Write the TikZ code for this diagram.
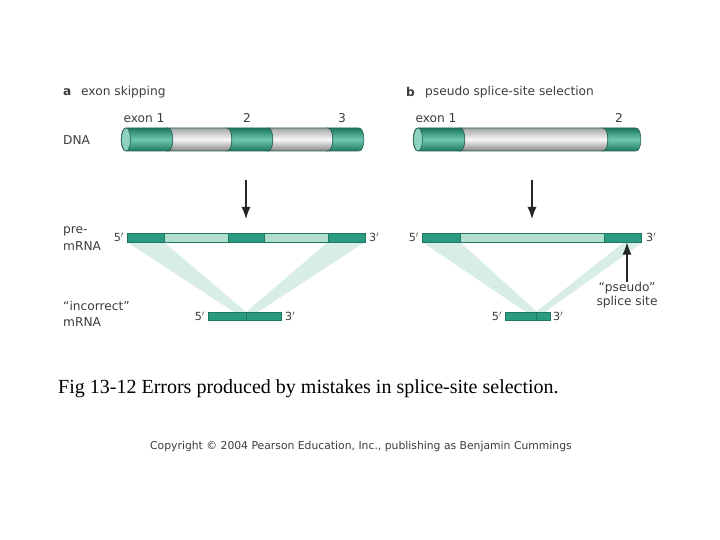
\documentclass[tikz,border=0pt]{standalone}
\usepackage{fontspec}
\setmainfont{Liberation Serif}
\newfontfamily\labfont{DejaVu Sans}
\usetikzlibrary{arrows.meta}
\definecolor{exdark}{RGB}{28,120,96}
\definecolor{exlight}{RGB}{110,200,175}
\definecolor{exface}{RGB}{140,210,190}
\definecolor{grdark}{RGB}{165,165,165}
\definecolor{grlight}{RGB}{248,248,248}
\definecolor{barc}{RGB}{42,155,128}
\definecolor{barline}{RGB}{30,120,98}
\definecolor{barlight}{RGB}{178,222,208}
\definecolor{bandc}{RGB}{216,237,230}
\definecolor{txt}{RGB}{60,60,60}
\definecolor{outl}{RGB}{40,95,80}
\newcommand{\cylpart}[3]{%
  \path[#1] (#2,128) -- (#3,128) .. controls (#3+6.5,128) and (#3+6.5,151) .. (#3,151)
    -- (#2,151) .. controls (#2+6.5,151) and (#2+6.5,128) .. (#2,128) -- cycle;}
\newcommand{\cylfirst}[3]{%
  \path[#1] (#2,128) -- (#3,128) .. controls (#3+6.5,128) and (#3+6.5,151) .. (#3,151)
    -- (#2,151) .. controls (#2-6.5,151) and (#2-6.5,128) .. (#2,128) -- cycle;}
\tikzset{
  lab/.style={font=\labfont\fontsize{12.2}{14}\selectfont, text=txt, inner sep=0pt},
  small/.style={font=\labfont\fontsize{11.2}{13}\selectfont, text=txt, inner sep=0pt},
  greenseg/.style={top color=exdark, bottom color=exdark, middle color=exlight, draw=outl, line width=0.6pt},
  grayseg/.style={top color=grdark, bottom color=grdark!80!black, middle color=grlight, draw=outl, line width=0.6pt},
  endface/.style={fill=exface, draw=outl, line width=0.6pt},
  barg/.style={fill=barc, draw=barline, line width=0.4pt},
  barl/.style={fill=barlight, draw=barline, line width=0.4pt},
  band/.style={fill=bandc},
  arr/.style={draw=black!85, line width=1.2pt, -{Latex[length=12pt,width=9pt]}},
}
\begin{document}
\begin{tikzpicture}[x=1pt,y=-1pt]
\useasboundingbox (0,0) rectangle (720,540);
% ---------- panel a ----------
\node[lab, anchor=west, font=\labfont\bfseries\fontsize{12.2}{14}\selectfont] (la) at (63,92) {a};
\node[lab, anchor=west] (ta) at (81,92) {exon skipping};
\node[lab, anchor=west] (dna) at (63,140) {DNA};
\node[lab] (ea1) at (144,118) {exon 1};
\node[lab] (ea2) at (247,118) {2};
\node[lab] (ea3) at (342,118) {3};
% cylinder a
\cylfirst{greenseg}{126}{168}
\cylpart{grayseg}{168}{227}
\cylpart{greenseg}{227}{268}
\cylpart{grayseg}{268}{328}
\cylpart{greenseg}{328}{359}
\draw[endface] (126,139.5) ellipse [x radius=4.5, y radius=11.5];
% arrow a
\coordinate (aas) at (246,180);
\coordinate (aae) at (246,219);
\draw[arr] (aas) -- (aae);
% bands a
\fill[band] (127,242) -- (164,242) -- (246,312) -- (234,312) -- cycle;
\fill[band] (328,242) -- (365,242) -- (258,312) -- (246,312) -- cycle;
% pre-mRNA a
\draw[barg] (127,233) rectangle (164,242);
\draw[barl] (164,233) rectangle (228,242);
\draw[barg] (228,233) rectangle (264,242);
\draw[barl] (264,233) rectangle (328,242);
\draw[barg] (328,233) rectangle (365,242);
\node[small, anchor=east] (a5) at (124,237) {5$'$};
\node[small, anchor=west] (a3) at (369,237) {3$'$};
\node[lab, anchor=west] (pre1) at (63,231) {pre-};
\node[lab, anchor=west] (pre2) at (63,246) {mRNA};
% mRNA a
\draw[barg] (208,312) rectangle (246,320);
\draw[barg] (246,312) rectangle (281,320);
\node[small, anchor=east] (am5) at (205,316) {5$'$};
\node[small, anchor=west] (am3) at (285,316) {3$'$};
\node[lab, anchor=west] (inc1) at (63,306) {“incorrect”};
\node[lab, anchor=west] (inc2) at (63,322) {mRNA};
% ---------- panel b ----------
\node[lab, anchor=west, font=\labfont\bfseries\fontsize{12.2}{14}\selectfont] (lb) at (406,92) {b};
\node[lab, anchor=west] (tb) at (425,92) {pseudo splice-site selection};
\node[lab] (eb1) at (436,118) {exon 1};
\node[lab] (eb2) at (619,118) {2};
\cylfirst{greenseg}{418}{460}
\cylpart{grayseg}{460}{603}
\cylpart{greenseg}{603}{636}
\draw[endface] (418,139.5) ellipse [x radius=4.5, y radius=11.5];
\coordinate (bas) at (532,180);
\coordinate (bae) at (532,219);
\draw[arr] (bas) -- (bae);
\fill[band] (422,242) -- (460,242) -- (537,312) -- (526,312) -- cycle;
\fill[band] (624,242) -- (643,242) -- (545,312) -- (536,312) -- cycle;
\draw[barg] (422,233) rectangle (460,242);
\draw[barl] (460,233) rectangle (604,242);
\draw[barg] (604,233) rectangle (641,242);
\node[small, anchor=east] (b5) at (419,237) {5$'$};
\node[small, anchor=west] (b3) at (646,237) {3$'$};
\draw[barg] (505,312) rectangle (536,320);
\draw[barg] (536,312) rectangle (550,320);
\node[small, anchor=east] (bm5) at (502,316) {5$'$};
\node[small, anchor=west] (bm3) at (553,316) {3$'$};
\node[lab] (ps1) at (627,288) {“pseudo”};
\node[lab] (ps2) at (627,302) {splice site};
\coordinate (pse) at (627,242.5);
\draw[arr] (ps1.north) -- (pse);
% ---------- captions ----------
\node[anchor=west, inner sep=0pt, font=\fontsize{20}{23}\selectfont] (cap) at (58,389)
  {Fig 13-12 Errors produced by mistakes in splice-site selection.};
\node[anchor=west, inner sep=0pt, font=\labfont\fontsize{10.8}{13}\selectfont, text=txt] (copy) at (150,447)
  {Copyright © 2004 Pearson Education, Inc., publishing as Benjamin Cummings};
\end{tikzpicture}
\end{document}
